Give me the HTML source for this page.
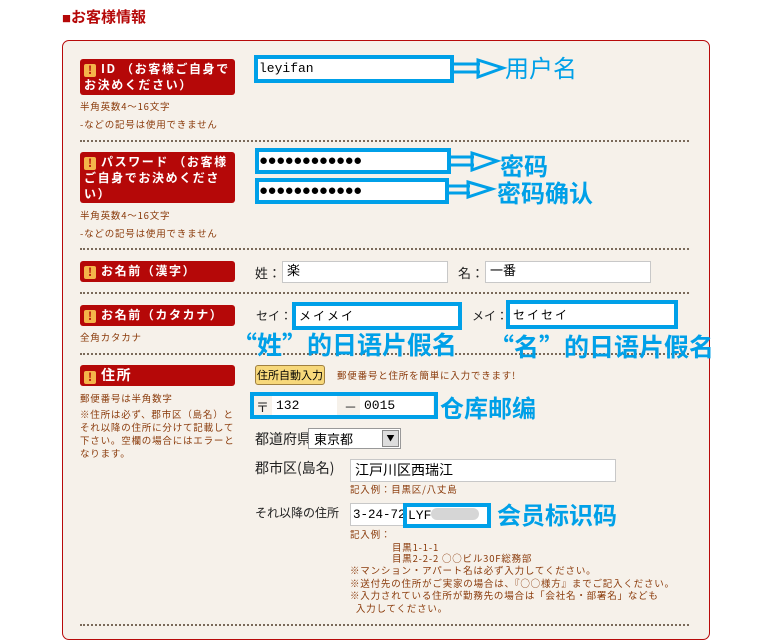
<!DOCTYPE html>
<html><head><meta charset="utf-8"><style>
*{margin:0;padding:0;box-sizing:border-box}
body{width:768px;height:627px;overflow:hidden;background:#fff;position:relative;font-family:"Liberation Sans","Noto Sans CJK JP",sans-serif}
.a{position:absolute;white-space:nowrap}
.panel{position:absolute;left:62px;top:40px;width:648px;height:600px;border:1.5px solid #b80a0a;border-radius:7px;background:#f6f1ea}
.lab{position:absolute;left:80px;width:155px;background:#b50808;border-radius:3px;color:#fff;font-weight:bold;font-size:12px;line-height:16px;padding:2px 4px 2px 4px;font-family:"Noto Sans CJK JP",sans-serif;letter-spacing:1.6px}
.ex{display:inline-block;width:12px;height:13px;background:#f4b54a;border-radius:2px;color:#b50808;font-size:11px;line-height:13px;text-align:center;margin-right:5px;vertical-align:-1px;letter-spacing:0}
.sm{position:absolute;font-size:9.5px;color:#8a3a0a;white-space:nowrap;font-family:"Noto Sans CJK JP",sans-serif;letter-spacing:0.8px}
.dot{position:absolute;left:80px;width:609px;border-top:2px dotted #7a6a5a}
.blue{position:absolute;border:4px solid #00a0e8;background:#fff;white-space:nowrap;overflow:hidden}
.inp{position:absolute;background:#fff;border:1px solid #c8c8c8;font-size:13px;padding-left:4px;line-height:20px;font-family:"Liberation Mono","Noto Sans CJK JP",monospace;white-space:nowrap;overflow:hidden}
.t{position:absolute;font-size:13px;color:#222;white-space:nowrap;font-family:"Noto Sans CJK JP",sans-serif}
.ann{position:absolute;color:#00a0e8;font-weight:bold;font-size:24px;white-space:nowrap;font-family:"Noto Sans CJK SC",sans-serif;line-height:28px}
.dots{font-size:15px;letter-spacing:-0.5px;color:#000;line-height:18px;padding-left:0}
</style></head><body>
<div class="a" style="left:62px;top:6px;color:#b50808;font-weight:bold;font-size:15px;font-family:'Noto Sans CJK JP',sans-serif"><span style="font-size:9px">■</span>お客様情報</div>
<div class="panel"></div>

<div class="lab" style="top:59px;height:36px"><span class="ex">!</span>ID （お客様ご自身で<br>お決めください）</div>
<div class="sm" style="left:80px;top:99px">半角英数4～16文字</div>
<div class="sm" style="left:80px;top:117px">-などの記号は使用できません</div>
<div class="blue" style="left:254px;top:55px;width:200px;height:28px"><div style="font-family:'Liberation Mono',monospace;font-size:13px;line-height:20px;padding-left:1px">leyifan</div></div>
<div class="dot" style="top:140px"></div>

<div class="lab" style="top:152px;height:51px"><span class="ex">!</span>パスワード （お客様<br>ご自身でお決めくださ<br>い）</div>
<div class="sm" style="left:80px;top:208px">半角英数4～16文字</div>
<div class="sm" style="left:80px;top:226px">-などの記号は使用できません</div>
<div class="blue" style="left:255px;top:148px;width:196px;height:26px"><div class="dots">●●●●●●●●●●●●</div></div>
<div class="blue" style="left:255px;top:178px;width:194px;height:26px"><div class="dots">●●●●●●●●●●●●</div></div>
<div class="dot" style="top:248px"></div>

<svg class="a" style="left:0;top:0" width="768" height="627">
<g fill="none" stroke="#00a0e8" stroke-width="3">
<path d="M454 64 H480 M454 72 H480 M478 60 L503 68 L478 77 Z"/>
<path d="M451 157 H474 M451 165 H474 M472 153 L497 161 L472 170 Z"/>
<path d="M449 186 H470 M449 193 H470 M468 182 L492 189 L468 197 Z"/>
</g></svg>
<div class="ann" style="left:505px;top:53px;font-weight:normal">用户名</div>
<div class="ann" style="left:500px;top:151px">密码</div>
<div class="ann" style="left:497px;top:178px">密码确认</div>

<div class="lab" style="top:261px;height:21px"><span class="ex">!</span>お名前（漢字）</div>
<div class="t" style="left:255px;top:263px">姓：</div>
<div class="inp" style="left:282px;top:261px;width:166px;height:22px">楽</div>
<div class="t" style="left:458px;top:263px">名：</div>
<div class="inp" style="left:485px;top:261px;width:166px;height:22px">一番</div>
<div class="dot" style="top:292px"></div>

<div class="lab" style="top:305px;height:21px"><span class="ex">!</span>お名前（カタカナ）</div>
<div class="sm" style="left:80px;top:330px">全角カタカナ</div>
<div class="t" style="left:256px;top:307px;font-size:12px">セイ：</div>
<div class="blue" style="left:292px;top:302px;width:170px;height:28px"><div style="font-size:12px;line-height:20px;padding-left:3px;font-family:'Noto Sans CJK JP';letter-spacing:2px">メイメイ</div></div>
<div class="t" style="left:472px;top:307px;font-size:12px">メイ：</div>
<div class="blue" style="left:506px;top:300px;width:172px;height:29px"><div style="font-size:12px;line-height:21px;padding-left:3px;font-family:'Noto Sans CJK JP';letter-spacing:2px">セイセイ</div></div>
<div class="dot" style="top:353px"></div>
<div class="ann" style="left:232px;top:330px;font-size:25px">“姓”的日语片假名</div>
<div class="ann" style="left:489px;top:332px;font-size:25px">“名”的日语片假名</div>

<div class="lab" style="top:365px;height:21px;font-size:14px;line-height:17px"><span class="ex">!</span>住所</div>
<div class="sm" style="left:80px;top:391px">郵便番号は半角数字</div>
<div class="sm" style="left:80px;top:408px;line-height:13px">※住所は必ず、郡市区（島名）と<br>それ以降の住所に分けて記載して<br>下さい。空欄の場合にはエラーと<br>なります。</div>

<div class="a" style="left:255px;top:365px;width:70px;height:20px;background:#f7d87a;border:1px solid #a08040;border-radius:3px;font-size:11px;line-height:18px;text-align:center;font-family:'Noto Sans CJK JP'">住所自動入力</div>
<div class="sm" style="left:337px;top:368px">郵便番号と住所を簡単に入力できます!</div>

<div class="blue" style="left:250px;top:392px;width:188px;height:27px;background:#f6f1ea"></div>
<div class="t" style="left:256px;top:397px">〒</div>
<div class="inp" style="left:272px;top:396px;width:65px;height:19px;border:none;line-height:19px">132</div>
<div class="t" style="left:344px;top:397px">－</div>
<div class="inp" style="left:360px;top:396px;width:73px;height:19px;border:none;line-height:19px">0015</div>
<div class="ann" style="left:440px;top:393px">仓库邮编</div>

<div class="t" style="left:255px;top:429px;font-size:14px">都道府県</div>
<div class="a" style="left:308px;top:428px;width:93px;height:21px;background:#fff;border:1px solid #999;font-size:13px;line-height:19px;padding-left:5px;font-family:'Noto Sans CJK JP'">東京都<span style="position:absolute;right:1px;top:1px;width:17px;height:17px;background:#ddd;border:1px solid #888;font-size:8px;line-height:15px;text-align:center">▼</span></div>

<div class="t" style="left:255px;top:458px;font-size:14px">郡市区(島名)</div>
<div class="inp" style="left:350px;top:459px;width:266px;height:23px;font-size:14px;font-family:'Noto Sans CJK JP'">江戸川区西瑞江</div>
<div class="sm" style="left:350px;top:482px">記入例：目黒区/八丈島</div>

<div class="t" style="left:255px;top:504px;font-size:12px">それ以降の住所</div>
<div class="inp" style="left:350px;top:503px;width:60px;height:23px;line-height:22px;padding-left:2px;font-size:12.5px">3-24-72</div>
<div class="blue" style="left:403px;top:503px;width:88px;height:25px"><div style="font-family:'Liberation Mono',monospace;font-size:13px;line-height:17px;padding-left:1px">LYF<span style="display:inline-block;width:48px;height:12px;background:#d6d6d6;border-radius:6px;vertical-align:-1px"></span></div></div>
<div class="ann" style="left:497px;top:500px">会员标识码</div>

<div class="sm" style="left:350px;top:527px">記入例：</div>
<div class="sm" style="left:392px;top:540px">目黒1-1-1</div>
<div class="sm" style="left:392px;top:551px">目黒2-2-2 ○○ビル30F総務部</div>
<div class="sm" style="left:350px;top:564px;line-height:12.5px">※マンション・アパート名は必ず入力してください。<br>※送付先の住所がご実家の場合は、『○○様方』までご記入ください。<br>※入力されている住所が勤務先の場合は「会社名・部署名」なども<br>&nbsp;&nbsp;入力してください。</div>
<div class="dot" style="top:624px"></div>
</body></html>
